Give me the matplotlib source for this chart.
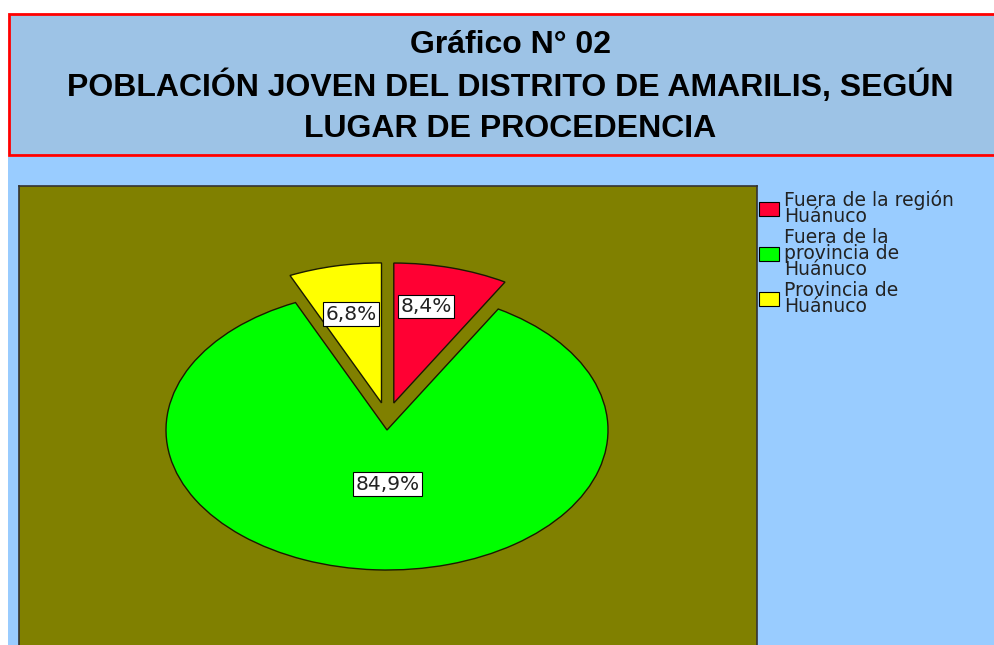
import numpy as np
import matplotlib.pyplot as plt
import matplotlib.patches as mpatches

# datos del grafico
categorias = ['Fuera de la región\nHuánuco', 'Fuera de la\nprovincia de\nHuánuco', 'Provincia de\nHuánuco']
porcentajes = [8.4, 84.9, 6.8]
etiquetas = ['8,4%', '84,9%', '6,8%']
colores = ['#FF0033', '#00FF00', '#FFFF00']
separacion = [0.195, 0.0, 0.195]

W, H = 994, 645
CX, CY, RX, RY = 387, 430, 221, 140   # centro y radios del pastel en pixeles
fig = plt.figure(figsize=(W / 100, H / 100), dpi=100, facecolor='white')

# fondo celeste y recuadro del titulo
fig.patches.append(mpatches.Rectangle((8 / W, 0), 1, 1 - 157 / H, transform=fig.transFigure,
                                      facecolor='#99CCFF', edgecolor='none', zorder=-2))
fig.patches.append(mpatches.Rectangle((9 / W, 1 - 155 / H), 1, 141 / H, transform=fig.transFigure,
                                      facecolor='#9DC3E6', edgecolor='#FF0000', linewidth=2, zorder=-2))

titulo = ['Gráfico N° 02', 'POBLACIÓN JOVEN DEL DISTRITO DE AMARILIS, SEGÚN', 'LUGAR DE PROCEDENCIA']
for linea, base in zip(titulo, [53, 96, 137]):
    fig.text(510 / W, 1 - base / H, linea, ha='center', va='baseline',
             fontsize=23, fontweight='bold', family='Liberation Sans')

# area del grafico (olivo)
ax = fig.add_axes([19 / W, -40 / H, (757 - 19) / W, (685 - 186) / H], zorder=2)
wedges, _ = ax.pie(porcentajes, colors=colores, explode=separacion, startangle=90,
                   counterclock=False, wedgeprops=dict(edgecolor='#1a1a00', linewidth=1.0))
# las porciones separadas se desplazan casi en vertical
for w, r in zip(wedges, separacion):
    if r > 0:
        mid = (w.theta1 + w.theta2) / 2
        mid = ((mid - 90 + 180) % 360) - 180
        ang = np.deg2rad(90 + mid * 0.6)
        w.set_center((r * np.cos(ang), r * np.sin(ang)))
ax.set_aspect('auto')
ax.set_frame_on(True)
ax.set_facecolor('#808000')
ax.set_xlim((19 - CX) / RX, (757 - CX) / RX)
ax.set_ylim((CY - 685) / RY, (CY - 186) / RY)
ax.set_xticks([])
ax.set_yticks([])
for s in ax.spines.values():
    s.set_color('#333333')
    s.set_linewidth(1.2)

pos_etiquetas = [(0.176, 0.882), (0.002, -0.386), (-0.164, 0.826)]
for txt, (x, y) in zip(etiquetas, pos_etiquetas):
    ax.text(x, y, txt, ha='center', va='center', fontsize=14.5, family='DejaVu Sans',
            color='#222222',
            bbox=dict(boxstyle='square,pad=0.12', facecolor='white', edgecolor='black', linewidth=0.8))

handles = [mpatches.Patch(facecolor=c, edgecolor='black', linewidth=0.8) for c in colores]
leg = fig.legend(handles, categorias, loc='upper left', bbox_to_anchor=(757 / W, 1 - 188 / H),
                 frameon=False, handlelength=1.05, handleheight=0.75,
                 handletextpad=0.3, labelspacing=0.1, borderaxespad=0, borderpad=0.1,
                 prop={'family': 'DejaVu Sans', 'size': 13.5})
for t in leg.get_texts():
    t.set_linespacing(0.8)
    t.set_color('#222222')

fig.savefig('out.png', dpi=100, facecolor='white')
